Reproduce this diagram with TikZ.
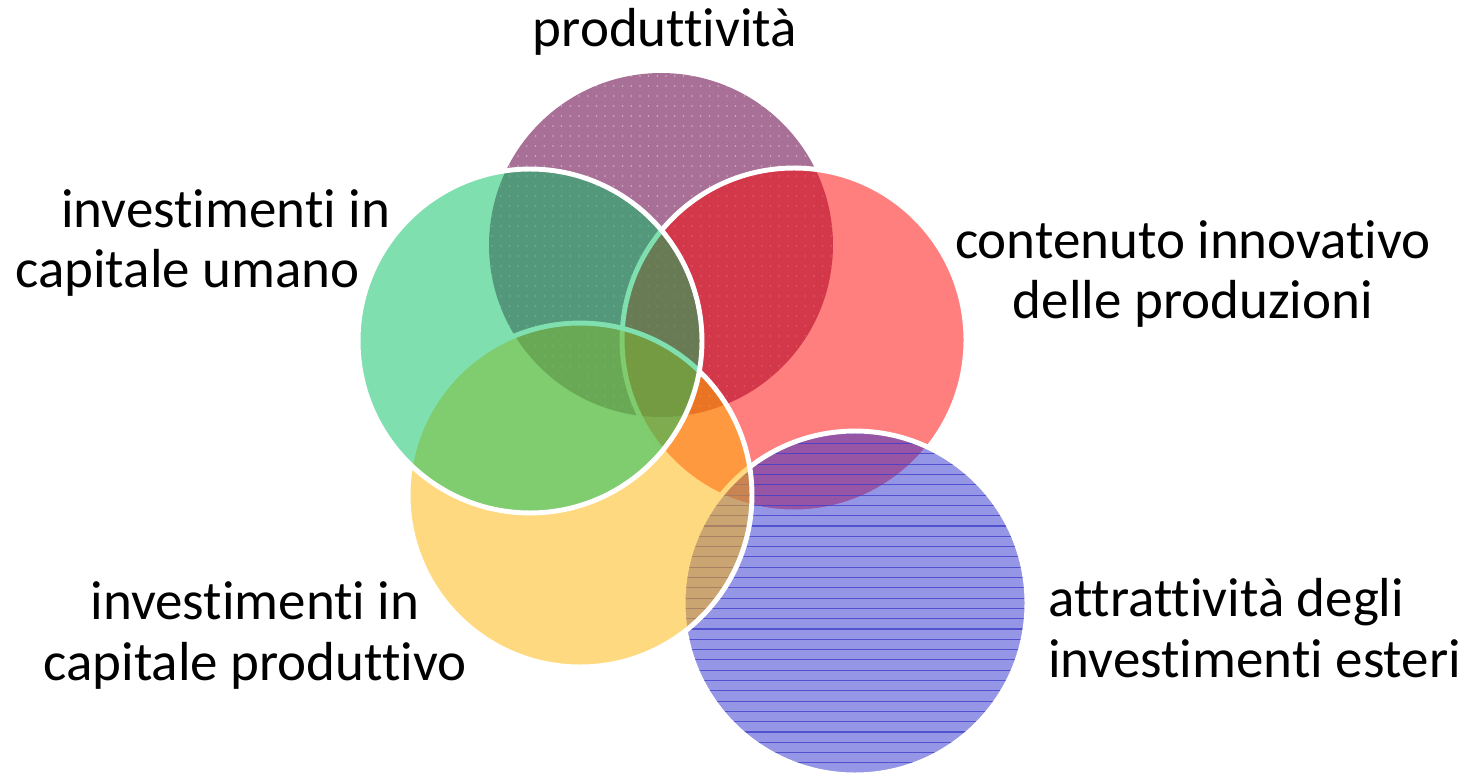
\documentclass[tikz,border=0pt]{standalone}
\usepackage{fontspec}
\setmainfont{Carlito}[Ligatures=NoCommon]
\usepackage{xcolor}
\usepackage{tikz}

\definecolor{prodcol}{RGB}{168,112,150}
\definecolor{innocol}{RGB}{255,0,0}
\definecolor{umancol}{RGB}{0,192,96}
\definecolor{capcol}{RGB}{255,180,0}
\definecolor{estcol}{RGB}{45,45,205}
\definecolor{linecol}{RGB}{60,60,200}

\begin{document}
\begin{tikzpicture}[x=0.02cm,y=-0.02cm,
	set/.style={fill opacity=0.5,draw=white,line width=2.8pt},
	label/.style={font=\fontsize{31.3pt}{34.7pt}\selectfont,inner sep=0pt}]
	\useasboundingbox (0,0) rectangle (1476,776);

	\coordinate (prod) at (661,245);
	\coordinate (inno) at (794,340);
	\coordinate (uman) at (530,341);
	\coordinate (capi) at (580,495);
	\coordinate (este) at (855,603);

	% bottom circle, dotted
	\fill[prodcol] (prod) circle (3.44cm);
	\begin{scope}
		\clip (prod) circle (3.44cm);
		\foreach \i in {492,500.7,...,835}
			\foreach \j in {76,86,...,420}
				\fill[white,opacity=.45] (\i,\j) circle (0.5pt);
	\end{scope}

	\filldraw[set,fill=innocol] (inno) circle (3.44cm);

	% lined circle
	\fill[estcol,opacity=.5] (este) circle (3.44cm);
	\begin{scope}
		\clip (este) circle (3.44cm);
		\foreach \j in {433.3,443.6,...,776}
			\draw[linecol,line width=0.6pt,opacity=.75] (680,\j) -- (1030,\j);
	\end{scope}
	\draw[white,line width=2.8pt] (este) circle (3.44cm);

	\filldraw[set,fill=capcol] (capi) circle (3.44cm);
	\filldraw[set,fill=umancol] (uman) circle (3.44cm);

	% base anchor sits on the last line
	\node[label,anchor=base] (tprod) at (665,47) {produttività};
	\node[label,anchor=base,align=center] (tinno) at (1193,319)
		{contenuto innovativo\\delle produzioni};
	\node[label,anchor=base west,align=left] (tuman) at (15,288)
		{\hspace*{0.92cm}investimenti in\\capitale umano};
	\node[label,anchor=base,align=center] (tcapi) at (255,680)
		{investimenti in\\capitale produttivo};
	\node[label,anchor=base west,align=left] (teste) at (1048,677)
		{attrattività degli\\investimenti esteri};
\end{tikzpicture}
\end{document}
